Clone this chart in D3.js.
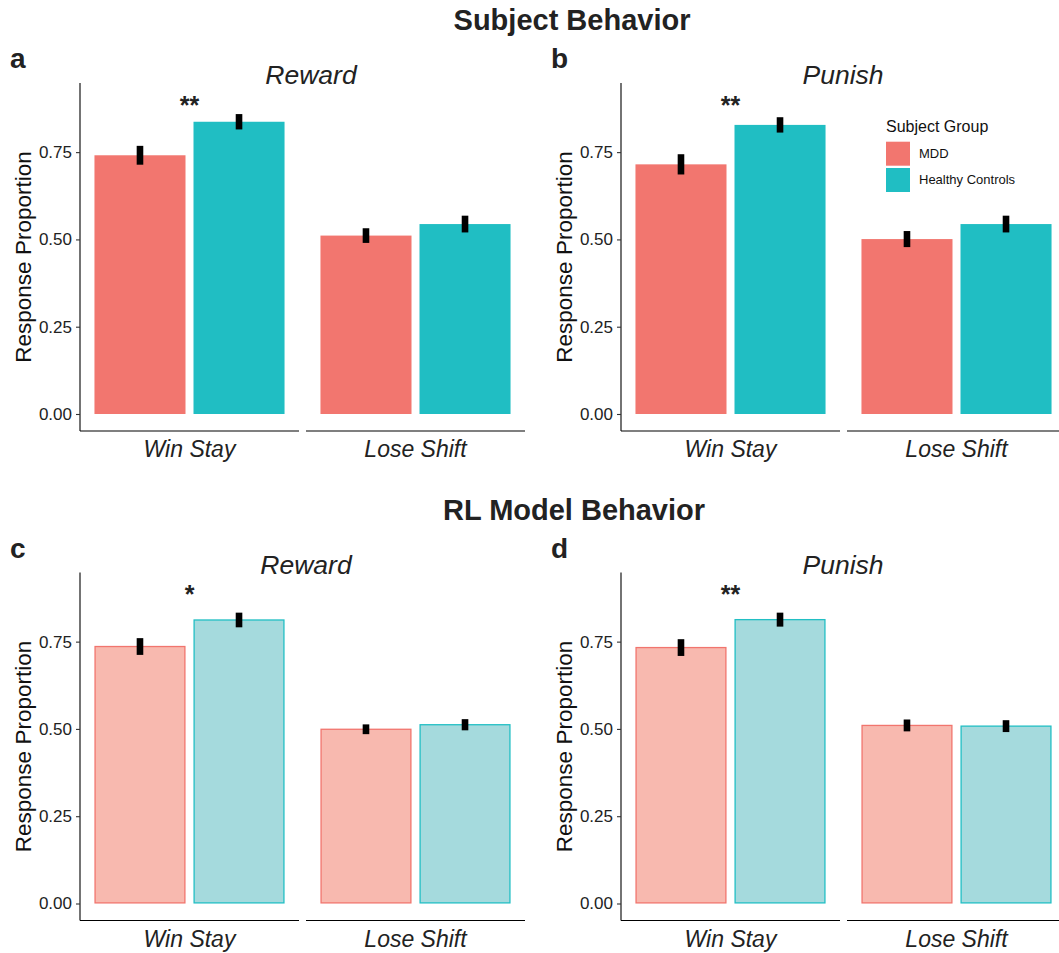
<!DOCTYPE html>
<html>
<head>
<meta charset="utf-8">
<script src="https://cdn.jsdelivr.net/npm/d3@7"></script>
<style>
  body { margin: 0; background: #fff; }
  svg { display: block; font-family: "Liberation Sans", Arial, Helvetica, sans-serif; }
</style>
</head>
<body>
<div class="chartsWrapper"></div>
<script>
// values: order is [Win Stay MDD, Win Stay HC, Lose Shift MDD, Lose Shift HC]
var groups = ["MDD", "Healthy Controls"]
var strategies = ["Win Stay", "Lose Shift"]
var yTicks = [0, 0.25, 0.5, 0.75]

var subjRewardMean = [0.741, 0.837, 0.511, 0.544]
var subjRewardSE   = [0.027, 0.022, 0.021, 0.024]
var subjPunishMean = [0.715, 0.828, 0.501, 0.544]
var subjPunishSE   = [0.029, 0.022, 0.023, 0.024]
var rlRewardMean   = [0.736, 0.812, 0.499, 0.512]
var rlRewardSE     = [0.024, 0.021, 0.014, 0.016]
var rlPunishMean   = [0.733, 0.813, 0.510, 0.508]
var rlPunishSE     = [0.024, 0.020, 0.017, 0.017]

// significance stars above Win Stay
var stars = ["**", "**", "*", "**"]

var panels = [
  {letter: "a", title: "Reward", mean: subjRewardMean, se: subjRewardSE, star: stars[0], model: false},
  {letter: "b", title: "Punish", mean: subjPunishMean, se: subjPunishSE, star: stars[1], model: false},
  {letter: "c", title: "Reward", mean: rlRewardMean,   se: rlRewardSE,   star: stars[2], model: true},
  {letter: "d", title: "Punish", mean: rlPunishMean,   se: rlPunishSE,   star: stars[3], model: true}
]

var W = 1059, H = 953

var svg = d3.select('.chartsWrapper')
            .append('svg')
            .attr('width', W)
            .attr('height', H)

var solidFill = {"MDD": "#F2766F", "Healthy Controls": "#20BEC3"}
var lightFill = {"MDD": "#F8B9AF", "Healthy Controls": "#A5DADD"}
var strokeCol = {"MDD": "#F1756E", "Healthy Controls": "#22BFC4"}

// section headers
svg.append('text').attr('x', 572).attr('y', 30)
   .attr('text-anchor', 'middle').attr('font-size', 29).attr('font-weight', 'bold')
   .attr('fill', '#222').text('Subject Behavior')
svg.append('text').attr('x', 574).attr('y', 520)
   .attr('text-anchor', 'middle').attr('font-size', 29).attr('font-weight', 'bold')
   .attr('fill', '#222').text('RL Model Behavior')

// panel geometry
var origins = [[80, 83, 311], [621, 83, 843], [80, 572.5, 306], [621, 572.5, 843]]
var facetW = 219, facetGap = 7, panelH = 348

var y = d3.scaleLinear().domain([-0.0487, 0.948]).range([panelH, 0])

var x = d3.scaleBand().domain(groups).range([0, facetW])
          .paddingInner(0.0808).paddingOuter(0.146)

panels.forEach(function(p, i) {
  var ox = origins[i][0], oy = origins[i][1], titleX = origins[i][2]
  var g = svg.append('g').attr('transform', 'translate(' + ox + ',' + oy + ')')

  // letter
  svg.append('text').attr('x', 10 + (ox - 80)).attr('y', oy - 15)
     .attr('font-size', 28).attr('font-weight', 'bold').attr('fill', '#222')
     .text(p.letter)

  // title
  svg.append('text').attr('x', titleX).attr('y', oy + 1)
     .attr('text-anchor', 'middle').attr('font-size', 26.5).attr('font-style', 'italic')
     .attr('fill', '#222').text(p.title)

  // y axis
  var yAxis = g.append('g').call(d3.axisLeft(y).tickValues(yTicks)
                  .tickFormat(d3.format('.2f')).tickSize(4).tickPadding(4))
  yAxis.select('.domain').attr('stroke', '#000').attr('stroke-width', 1.1)
       .attr('d', 'M0,0V' + panelH)
  yAxis.selectAll('.tick line').attr('stroke', '#333').attr('stroke-width', 1.1)
  yAxis.selectAll('.tick text').attr('font-size', 17).attr('fill', '#222')
       .attr('font-family', '"Liberation Sans", Arial, sans-serif')

  // y title
  g.append('text').attr('transform', 'translate(-49,' + (panelH / 2) + ') rotate(-90)')
   .attr('text-anchor', 'middle').attr('font-size', 22.5).attr('fill', '#111')
   .text('Response Proportion')

  strategies.forEach(function(s, k) {
    var fx = k * (facetW + facetGap)
    var fg = g.append('g').attr('transform', 'translate(' + fx + ',0)')

    var rows = groups.map(function(grp, j) {
      return {group: grp, mean: p.mean[k * 2 + j], se: p.se[k * 2 + j]}
    })

    fg.selectAll('.bar')
      .data(rows)
      .enter()
      .append('rect')
      .attr('class', 'bar')
      .attr('x', function(d) { return x(d.group) + (p.model ? 0.6 : 0) })
      .attr('width', function() { return x.bandwidth() - (p.model ? 1.2 : 0) })
      .attr('y', function(d) { return y(d.mean) })
      .attr('height', function(d) { return y(0) - y(d.mean) - (p.model ? 0.6 : 0) })
      .style('fill', function(d) { return p.model ? lightFill[d.group] : solidFill[d.group] })
      .style('stroke', function(d) { return p.model ? strokeCol[d.group] : 'none' })
      .style('stroke-width', 1.3)

    fg.selectAll('.err')
      .data(rows)
      .enter()
      .append('rect')
      .attr('class', 'err')
      .attr('x', function(d) { return x(d.group) + x.bandwidth() / 2 - 3.3 })
      .attr('width', 6.6)
      .attr('y', function(d) { return y(d.mean + d.se) })
      .attr('height', function(d) { return y(d.mean - d.se) - y(d.mean + d.se) })
      .style('fill', '#000')

    // x axis line for the facet
    fg.append('line').attr('x1', 0).attr('x2', facetW)
      .attr('y1', panelH).attr('y2', panelH)
      .attr('stroke', '#000').attr('stroke-width', 1.1)

    fg.append('text').attr('x', facetW / 2).attr('y', panelH + 26)
      .attr('text-anchor', 'middle').attr('font-size', 23).attr('font-style', 'italic')
      .attr('fill', '#222').text(s)

    if (k === 0) {
      var midX = (x(groups[0]) + x.bandwidth() + x(groups[1])) / 2
      fg.append('text').attr('x', midX).attr('y', y(0.9) + 14)
        .attr('text-anchor', 'middle').attr('font-size', 25).attr('font-weight', 'bold')
        .attr('fill', '#222').text(p.star)
    }
  })
})

// legend in panel b
var leg = svg.append('g').attr('transform', 'translate(886,0)')
leg.append('text').attr('x', 0).attr('y', 131.5).attr('font-size', 16)
   .attr('fill', '#111').text('Subject Group')
leg.selectAll('.key')
   .data(groups)
   .enter()
   .append('rect')
   .attr('class', 'key')
   .attr('x', 0)
   .attr('y', function(d, i) { return 141.7 + i * 26.3 })
   .attr('width', 24).attr('height', 24)
   .style('fill', function(d) { return solidFill[d] })
leg.selectAll('.keylab')
   .data(groups)
   .enter()
   .append('text')
   .attr('class', 'keylab')
   .attr('x', 33)
   .attr('y', function(d, i) { return 158 + i * 26 })
   .attr('font-size', 13).attr('fill', '#111')
   .text(function(d) { return d })
</script>
</body>
</html>
